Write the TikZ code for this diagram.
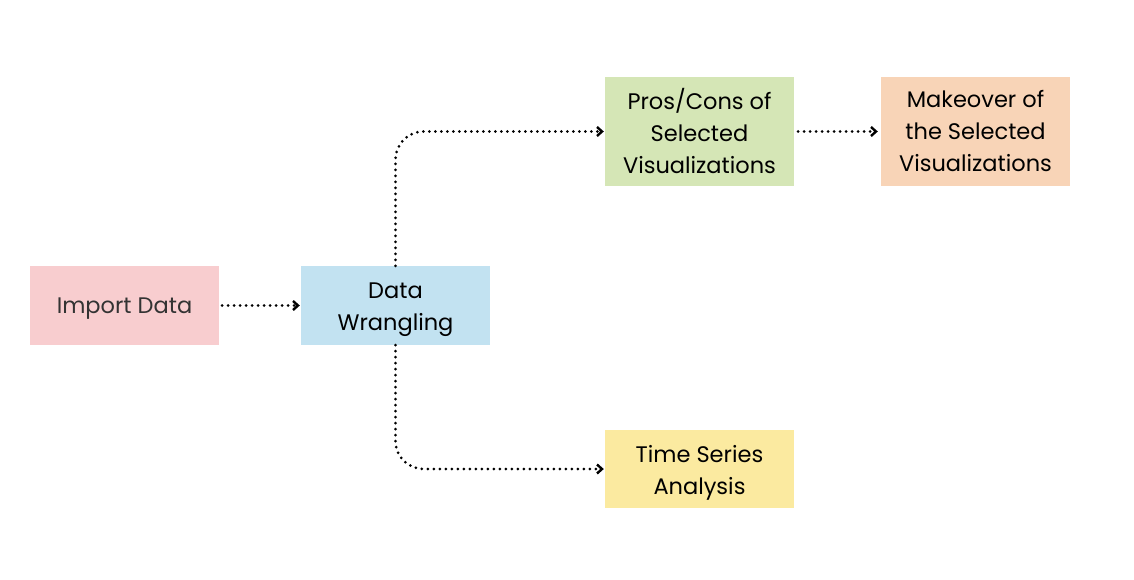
\documentclass[tikz,border=0pt]{standalone}
\usepackage{fontspec}
\setmainfont{Poppins}
\usetikzlibrary{arrows.meta}
\definecolor{pinkbox}{HTML}{F8CDCF}
\definecolor{bluebox}{HTML}{C2E2F1}
\definecolor{greenbox}{HTML}{D5E6B6}
\definecolor{peachbox}{HTML}{F8D4B7}
\definecolor{yellowbox}{HTML}{FBEAA0}
\begin{document}
\begin{tikzpicture}[x=1pt, y=-1pt,
  box/.style = {minimum width=189pt, inner sep=0pt},
  txt/.style = {align=center, inner sep=0pt, yshift=-3pt,
    font=\fontsize{22.5}{32}\selectfont},
  flow/.style = {line width=3pt, dash pattern=on 0pt off 6pt, line cap=round,
    -{Straight Barb[length=5pt, width=9pt, line width=2.4pt, sep=1pt]}}]
\useasboundingbox (0,0) rectangle (1134,580);
\node[box, fill=pinkbox, minimum height=79pt,
  label={[txt, text=black!80]center:Import Data}] (import) at (124.5,305.5) {};
\node[box, fill=bluebox, minimum height=79pt,
  label={[txt, yshift=-1pt]center:Data\\Wrangling}] (wrangle) at (395.5,305.5) {};
\node[box, fill=greenbox, minimum height=109pt,
  label={[txt, yshift=3.5pt]center:Pros/Cons of\\Selected\\Visualizations}] (pros) at (699.5,131.5) {};
\node[box, fill=peachbox, minimum height=109pt,
  label={[txt, yshift=3pt]center:Makeover of\\the Selected\\Visualizations}] (makeover) at (975.5,131.5) {};
\node[box, fill=yellowbox, minimum height=78pt,
  label={[txt, yshift=-1pt]center:Time Series\\Analysis}] (series) at (699.5,469) {};
\draw[flow] ([xshift=3pt]import.east) -- (wrangle.west);
\draw[flow, rounded corners=28pt] (wrangle.north) |- (pros.west);
\draw[flow, rounded corners=28pt] (wrangle.south) |- (series.west);
\draw[flow] ([xshift=4pt]pros.east) -- ([xshift=-2pt]makeover.west);
\end{tikzpicture}
\end{document}
